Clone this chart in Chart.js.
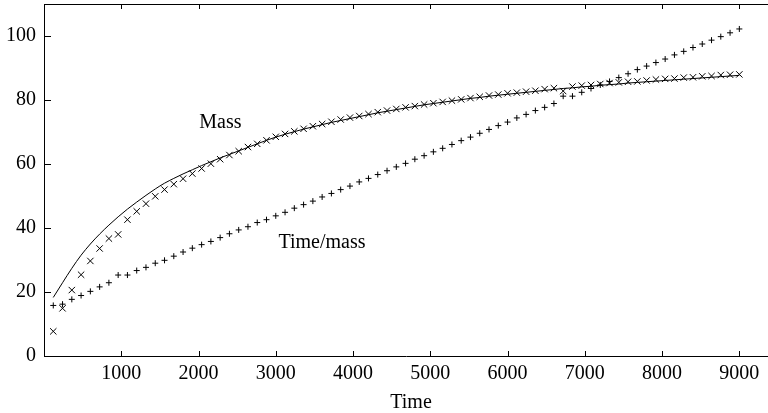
<!DOCTYPE html>
<html>
<head>
<meta charset="utf-8">
<script src="https://cdn.jsdelivr.net/npm/chart.js@4.4.1/dist/chart.umd.min.js"></script>
<style>
  html, body { margin: 0; padding: 0; background: #fff; }
  #wrap { width: 768px; height: 413px; position: relative; }
</style>
</head>
<body>
<div id="wrap"><canvas id="massChart"></canvas></div>
<script>
// sample times (x), every 120 from 120 to 9000
const times = [
  120, 240, 360, 480, 600, 720, 840, 960, 1080, 1200,
  1320, 1440, 1560, 1680, 1800, 1920, 2040, 2160, 2280, 2400,
  2520, 2640, 2760, 2880, 3000, 3120, 3240, 3360, 3480, 3600,
  3720, 3840, 3960, 4080, 4200, 4320, 4440, 4560, 4680, 4800,
  4920, 5040, 5160, 5280, 5400, 5520, 5640, 5760, 5880, 6000,
  6120, 6240, 6360, 6480, 6600, 6720, 6840, 6960, 7080, 7200,
  7320, 7440, 7560, 7680, 7800, 7920, 8040, 8160, 8280, 8400,
  8520, 8640, 8760, 8880, 9000
];
// measured mass (x marks)
const mass = [
  7.7, 14.9, 20.6, 25.4, 29.7, 33.6, 36.7, 38.0, 42.6, 45.2,
  47.6, 49.9, 52.0, 53.7, 55.4, 57.0, 58.6, 60.1, 61.5, 62.8,
  64.0, 65.3, 66.3, 67.4, 68.5, 69.4, 70.2, 71.0, 71.8, 72.5,
  73.2, 73.9, 74.5, 75.0, 75.6, 76.2, 76.7, 77.2, 77.7, 78.1,
  78.6, 79.0, 79.4, 79.8, 80.2, 80.6, 81.0, 81.4, 81.7, 82.1,
  82.3, 82.6, 82.9, 83.4, 83.7, 82.8, 84.2, 84.5, 84.7, 85.0,
  85.3, 85.5, 85.7, 85.8, 86.1, 86.4, 86.6, 86.7, 87.0, 87.1,
  87.4, 87.5, 87.8, 87.9, 88.0
];
// time/mass (+ marks)
const timePerMass = [
  15.8, 16.2, 17.7, 18.9, 20.2, 21.6, 22.9, 25.3, 25.3, 26.7,
  27.7, 29.0, 29.9, 31.2, 32.5, 33.7, 34.8, 35.8, 37.0, 38.2,
  39.4, 40.4, 41.7, 42.6, 43.8, 44.9, 46.2, 47.3, 48.4, 49.7,
  50.8, 52.0, 53.1, 54.4, 55.5, 56.7, 57.9, 59.1, 60.2, 61.5,
  62.6, 63.8, 64.9, 66.1, 67.3, 68.4, 69.6, 70.8, 72.0, 73.1,
  74.4, 75.5, 76.7, 77.7, 78.9, 81.2, 81.2, 82.4, 83.6, 84.7,
  85.8, 87.0, 88.2, 89.5, 90.6, 91.7, 92.8, 94.1, 95.2, 96.4,
  97.5, 98.7, 99.8, 101.0, 102.2
];
// fitted mass curve (solid line)
const massFit = [
  18.3, 22.9, 27.4, 31.5, 35.0, 38.1, 40.9, 43.5, 45.9, 48.1,
  50.2, 52.2, 54.0, 55.5, 56.9, 58.2, 59.5, 60.7, 61.9, 63.0,
  64.1, 65.2, 66.3, 67.4, 68.4, 69.3, 70.1, 70.9, 71.6, 72.3,
  73.0, 73.6, 74.2, 74.8, 75.4, 76.0, 76.5, 77.0, 77.5, 78.0,
  78.5, 78.9, 79.3, 79.7, 80.1, 80.5, 80.8, 81.2, 81.5, 81.8,
  82.1, 82.4, 82.7, 83.0, 83.3, 83.6, 83.8, 84.1, 84.3, 84.6,
  84.8, 85.0, 85.3, 85.5, 85.7, 85.9, 86.1, 86.3, 86.5, 86.7,
  86.9, 87.1, 87.3, 87.5, 87.7
];
const xTicks = [1000, 2000, 3000, 4000, 5000, 6000, 7000, 8000, 9000];
const yTicks = [0, 20, 40, 60, 80, 100];
// curve labels, placed in data units
const notes = [
  { text: 'Mass', x: 2010, y: 71.4 },
  { text: 'Time/mass', x: 3035, y: 33.6 }
];

const pts = (ys) => times.map((t, i) => ({ x: t, y: ys[i] }));
const serif = { family: '"Liberation Serif", "Times New Roman", serif', size: 20 };

const frame = {
  id: 'frame',
  afterDraw(chart) {
    const { ctx, chartArea: a, scales: { x, y } } = chart;
    ctx.save();
    ctx.strokeStyle = '#000';
    ctx.lineWidth = 1;
    ctx.beginPath();
    ctx.moveTo(a.left, a.top + 0.5);
    ctx.lineTo(a.right, a.top + 0.5);
    x.ticks.forEach(t => {
      const px = Math.round(x.getPixelForValue(t.value)) + 0.5;
      ctx.moveTo(px, a.bottom);
      ctx.lineTo(px, a.bottom - 5);
      ctx.moveTo(px, a.top);
      ctx.lineTo(px, a.top + 5);
    });
    y.ticks.forEach(t => {
      const py = Math.round(y.getPixelForValue(t.value)) + 0.5;
      ctx.moveTo(a.left, py);
      ctx.lineTo(a.left + 7, py);
    });
    ctx.stroke();

    ctx.font = '20px "Liberation Serif"';
    ctx.fillStyle = '#000';
    ctx.textBaseline = 'alphabetic';
    ctx.textAlign = 'left';
    notes.forEach(n => ctx.fillText(n.text, x.getPixelForValue(n.x), y.getPixelForValue(n.y)));
    // x axis title
    ctx.textAlign = 'center';
    ctx.fillText('Time', (a.left + a.right) / 2 + 5, 408);
    ctx.restore();
  }
};

let ctx = document.getElementById('massChart').getContext('2d');
let massChart = new Chart(ctx, {
  type: 'scatter',
  data: {
    datasets: [
      {
        label: 'fit',
        data: pts(massFit),
        showLine: true,
        pointRadius: 0,
        borderColor: '#000',
        borderWidth: 1,
        cubicInterpolationMode: 'monotone',
        fill: false
      },
      {
        label: 'Mass',
        data: pts(mass),
        pointStyle: 'crossRot',
        pointRadius: 4.5,
        borderColor: '#000',
        backgroundColor: '#000',
        pointBorderWidth: 1
      },
      {
        label: 'Time/mass',
        data: pts(timePerMass),
        pointStyle: 'cross',
        pointRadius: 3,
        borderColor: '#000',
        backgroundColor: '#000',
        pointBorderWidth: 1
      }
    ]
  },
  options: {
    responsive: true,
    maintainAspectRatio: false,
    animation: false,
    devicePixelRatio: 1,
    layout: { autoPadding: false, padding: { top: 4, right: 0, left: 0, bottom: 0 } },
    plugins: { legend: { display: false }, tooltip: { enabled: false } },
    scales: {
      x: {
        type: 'linear',
        min: 0,
        max: 9371,
        afterBuildTicks: (s) => { s.ticks = xTicks.map(v => ({ value: v })); },
        afterFit: (s) => { s.height = 57; s.paddingLeft = 0; s.paddingRight = 0; },
        grid: { display: true, drawOnChartArea: false, drawTicks: false, color: '#000' },
        border: { display: true, color: '#000', width: 1 },
        ticks: { padding: 6, autoSkip: false, maxRotation: 0, color: '#000', font: serif,
                 callback: (v) => String(v) }
      },
      y: {
        min: 0,
        max: 110,
        afterBuildTicks: (s) => { s.ticks = yTicks.map(v => ({ value: v })); },
        afterFit: (s) => { s.width = 44; s.paddingTop = 0; s.paddingBottom = 0; },
        grid: { display: true, drawOnChartArea: false, drawTicks: false, color: '#000' },
        border: { display: true, color: '#000', width: 1 },
        ticks: { padding: 8, color: '#000', font: serif, callback: (v) => String(v) }
      }
    }
  },
  plugins: [frame]
});
</script>
</body>
</html>
